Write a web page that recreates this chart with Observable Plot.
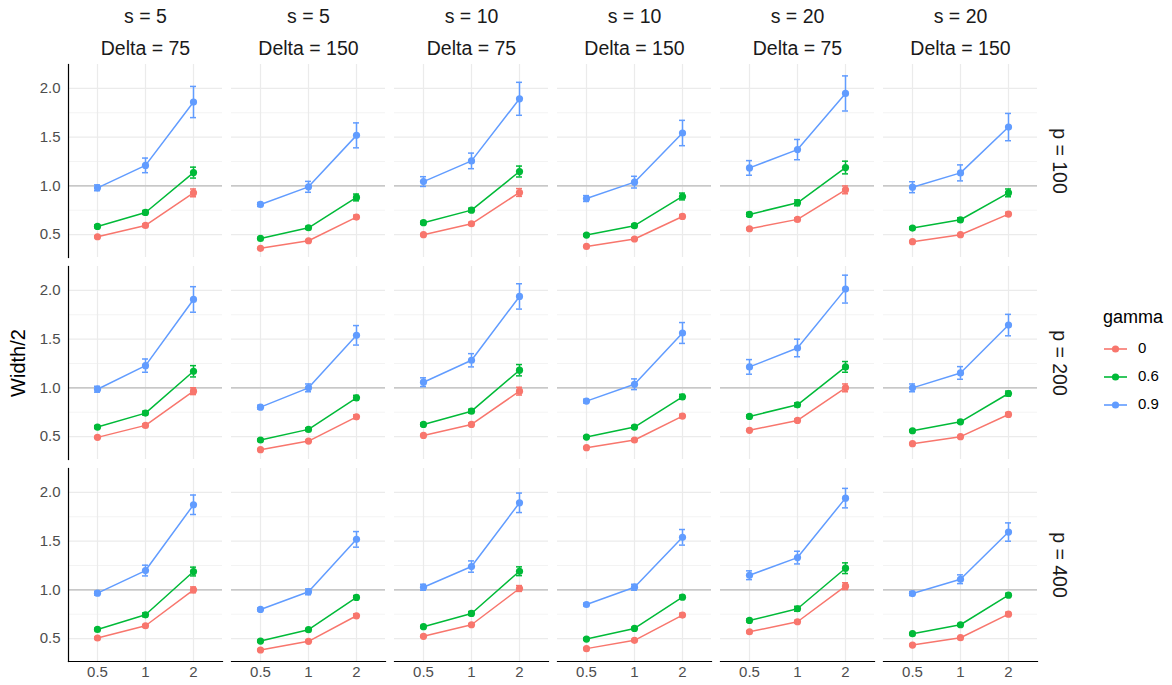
<!DOCTYPE html>
<html>
<head>
<meta charset="utf-8">
<script src="https://cdn.jsdelivr.net/npm/d3@7"></script>
<script src="https://cdn.jsdelivr.net/npm/@observablehq/plot@0.6"></script>
<style>
  body { margin: 0; background: #fff; }
  #wrap { position: relative; width: 1172px; height: 685px; font-family: "Liberation Sans", Arial, sans-serif; }
  #ytitle { position: absolute; left: 18px; top: 363px; transform: translate(-50%, -50%) rotate(-90deg); font-size: 20px; color: #000; white-space: nowrap; }
  #legend { position: absolute; left: 1096px; top: 300px; }
</style>
</head>
<body>
<div id="wrap">
  <div id="chart"></div>
  <div id="ytitle">Width/2</div>
  <div id="legend"></div>
</div>
<script>
// Facet layout: columns are (s, Delta) pairs, rows are p
const panelS = [5, 5, 10, 10, 20, 20];
const panelDelta = [75, 150, 75, 150, 75, 150];
const pValues = [100, 200, 400];
const sizes = ["0.5", "1", "2"];
const gammas = ["0", "0.6", "0.9"];
const gammaColors = ["#F8766D", "#00BA38", "#619CFF"];
const yTicks = [0.5, 1, 1.5, 2];
const yMinorTicks = [0.75, 1.25, 1.75];
const referenceLevel = [1];

// Mean half-width: [p row][panel][size]
const meanG0 = [
  [[0.478, 0.594, 0.928], [0.359, 0.437, 0.680], [0.499, 0.611, 0.932], [0.379, 0.455, 0.686], [0.560, 0.656, 0.959], [0.427, 0.499, 0.710]],
  [[0.492, 0.615, 0.966], [0.366, 0.454, 0.703], [0.512, 0.625, 0.966], [0.386, 0.465, 0.710], [0.564, 0.666, 1.000], [0.427, 0.499, 0.727]],
  [[0.506, 0.632, 1.000], [0.383, 0.472, 0.734], [0.523, 0.642, 1.014], [0.397, 0.482, 0.741], [0.570, 0.673, 1.038], [0.434, 0.509, 0.751]]
];
const errG0 = [
  [[0.010, 0.015, 0.040], [0.008, 0.010, 0.020], [0.010, 0.015, 0.040], [0.008, 0.010, 0.020], [0.010, 0.015, 0.040], [0.008, 0.010, 0.020]],
  [[0.010, 0.015, 0.035], [0.008, 0.010, 0.020], [0.010, 0.015, 0.040], [0.008, 0.010, 0.020], [0.010, 0.015, 0.040], [0.008, 0.010, 0.020]],
  [[0.010, 0.012, 0.030], [0.008, 0.010, 0.020], [0.010, 0.012, 0.030], [0.008, 0.010, 0.020], [0.010, 0.015, 0.035], [0.008, 0.010, 0.020]]
];
const meanG06 = [
  [[0.584, 0.727, 1.136], [0.461, 0.570, 0.881], [0.622, 0.751, 1.147], [0.495, 0.591, 0.891], [0.707, 0.826, 1.188], [0.567, 0.652, 0.928]],
  [[0.598, 0.741, 1.170], [0.465, 0.574, 0.898], [0.625, 0.761, 1.181], [0.495, 0.598, 0.908], [0.707, 0.826, 1.215], [0.560, 0.652, 0.942]],
  [[0.594, 0.744, 1.188], [0.475, 0.591, 0.922], [0.622, 0.758, 1.191], [0.495, 0.604, 0.925], [0.686, 0.806, 1.222], [0.550, 0.642, 0.945]]
];
const errG06 = [
  [[0.015, 0.020, 0.056], [0.010, 0.015, 0.035], [0.015, 0.020, 0.056], [0.010, 0.015, 0.035], [0.020, 0.030, 0.065], [0.012, 0.020, 0.040]],
  [[0.015, 0.020, 0.058], [0.010, 0.015, 0.025], [0.015, 0.020, 0.058], [0.010, 0.015, 0.025], [0.015, 0.020, 0.055], [0.010, 0.015, 0.025]],
  [[0.012, 0.020, 0.045], [0.010, 0.012, 0.020], [0.012, 0.020, 0.045], [0.010, 0.012, 0.020], [0.015, 0.025, 0.055], [0.010, 0.012, 0.020]]
];
const meanG09 = [
  [[0.980, 1.210, 1.860], [0.809, 0.990, 1.518], [1.044, 1.256, 1.893], [0.870, 1.038, 1.542], [1.184, 1.372, 1.948], [0.986, 1.133, 1.603]],
  [[0.986, 1.228, 1.907], [0.802, 1.000, 1.539], [1.058, 1.283, 1.938], [0.864, 1.037, 1.563], [1.215, 1.409, 2.013], [1.000, 1.153, 1.644]],
  [[0.966, 1.198, 1.873], [0.799, 0.980, 1.518], [1.027, 1.239, 1.893], [0.850, 1.027, 1.539], [1.150, 1.331, 1.941], [0.962, 1.109, 1.593]]
];
const errG09 = [
  [[0.030, 0.075, 0.160], [0.020, 0.056, 0.128], [0.050, 0.080, 0.169], [0.030, 0.060, 0.130], [0.075, 0.104, 0.180], [0.056, 0.082, 0.140]],
  [[0.030, 0.068, 0.131], [0.020, 0.040, 0.100], [0.045, 0.068, 0.130], [0.020, 0.055, 0.107], [0.075, 0.090, 0.143], [0.040, 0.065, 0.110]],
  [[0.020, 0.055, 0.100], [0.015, 0.030, 0.080], [0.030, 0.058, 0.100], [0.015, 0.030, 0.080], [0.045, 0.065, 0.100], [0.020, 0.045, 0.094]]
];

const panelKeys = panelS.map((s, j) => `${s}|${panelDelta[j]}`);
const series = [[meanG0, errG0], [meanG06, errG06], [meanG09, errG09]];

const rows = [];
series.forEach(([mean, err], g) => {
  pValues.forEach((p, i) => {
    panelKeys.forEach((key, j) => {
      sizes.forEach((size, k) => {
        const m = mean[i][j][k], e = err[i][j][k];
        rows.push({gamma: gammas[g], p, panel: key, size, width: m, lo: m - e, hi: m + e});
      });
    });
  });
});

const font = "Liberation Sans, Arial, sans-serif";
const facetOpts = {fx: "panel", fy: "p"};
const lw = 1.5;

const chart = Plot.plot({
  width: 1172,
  height: 685,
  marginTop: 63,
  marginBottom: 22,
  marginLeft: 65,
  marginRight: 132,
  facetMarginTop: 0,
  facetMarginRight: 0,
  facetMarginBottom: 0,
  facetMarginLeft: 0,
  style: {fontFamily: font, background: "#fff", overflow: "visible"},
  fx: {domain: panelKeys, paddingInner: 0.0534, paddingOuter: 0, axis: null},
  fy: {domain: pValues, paddingInner: 0.0443, paddingOuter: 0, axis: null},
  x: {type: "point", domain: sizes, padding: 0.6, axis: null},
  y: {domain: [0.265, 2.245], axis: null},
  color: {domain: gammas, range: gammaColors},
  marks: [
    Plot.gridY(yMinorTicks, {stroke: "#EBEBEB", strokeOpacity: 1, strokeWidth: 0.6}),
    Plot.gridY(yTicks, {stroke: "#EBEBEB", strokeOpacity: 1, strokeWidth: 1.2}),
    Plot.gridX(sizes, {stroke: "#EBEBEB", strokeOpacity: 1, strokeWidth: 1.2}),
    Plot.ruleY(referenceLevel, {stroke: "#BBBBBB", strokeWidth: 1.3}),
    Plot.line(rows, {...facetOpts, x: "size", y: "width", stroke: "gamma", z: "gamma", strokeWidth: lw}),
    Plot.ruleX(rows, {...facetOpts, x: "size", y1: "lo", y2: "hi", stroke: "gamma", strokeWidth: lw}),
    Plot.ruleY(rows, {...facetOpts, x1: "size", x2: "size", y: "lo", stroke: "gamma", strokeWidth: lw, insetLeft: -3, insetRight: -3}),
    Plot.ruleY(rows, {...facetOpts, x1: "size", x2: "size", y: "hi", stroke: "gamma", strokeWidth: lw, insetLeft: -3, insetRight: -3}),
    Plot.dot(rows, {...facetOpts, x: "size", y: "width", fill: "gamma", r: 3.6}),
    Plot.frame({anchor: "left", facetAnchor: "left", stroke: "#000", strokeWidth: 1.2}),
    Plot.frame({anchor: "bottom", facetAnchor: "bottom", stroke: "#000", strokeWidth: 1.2}),
    Plot.axisY({ticks: yTicks, tickFormat: d3.format(".1f"), tickSize: 0, tickPadding: 8, fontSize: 15, fill: "#4D4D4D", label: null}),
    Plot.axisX({tickSize: 0, tickPadding: 5, fontSize: 15, fill: "#4D4D4D", label: null}),
    Plot.axisFx({anchor: "top", tickSize: 0, tickPadding: 10, fontSize: 19.5, fill: "#1A1A1A", label: null,
      tickFormat: k => `Delta = ${k.split("|")[1]}`}),
    Plot.axisFx({anchor: "top", tickSize: 0, tickPadding: 42, fontSize: 19.5, fill: "#1A1A1A", label: null,
      tickFormat: k => `s = ${k.split("|")[0]}`}),
    Plot.axisFy({anchor: "right", tickSize: 0, tickPadding: 29, tickRotate: 90, fontSize: 19.5, fill: "#1A1A1A", label: null,
      tickFormat: d => `p = ${d}`})
  ]
});
document.getElementById("chart").append(chart);

// Legend for gamma
const legend = d3.select("#legend").append("svg").attr("width", 76).attr("height", 125)
  .style("font-family", font).style("overflow", "visible");
legend.append("text").attr("x", 7).attr("y", 18).attr("dominant-baseline", "middle")
  .attr("font-size", 18).attr("fill", "#000").text("gamma");
const items = legend.selectAll("g.item").data(gammas).join("g")
  .attr("transform", (d, i) => `translate(0, ${49 + i * 28})`);
items.append("line").attr("x1", 8).attr("x2", 31).attr("stroke", (d, i) => gammaColors[i]).attr("stroke-width", 1.6);
items.append("circle").attr("cx", 19.5).attr("r", 3.6).attr("fill", (d, i) => gammaColors[i]);
items.append("text").attr("x", 42).attr("dominant-baseline", "middle").attr("font-size", 15).attr("fill", "#000").text(d => d);
</script>
</body>
</html>
